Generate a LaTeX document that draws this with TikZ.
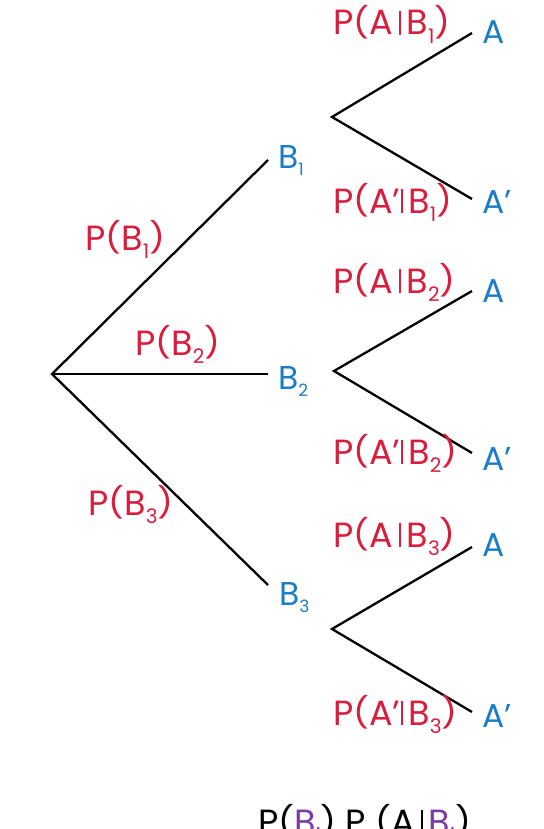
\documentclass[tikz,border=0pt]{standalone}
\usepackage{fontspec}
\setmainfont{Poppins}
\definecolor{probred}{HTML}{D81E3C}
\definecolor{eventblue}{HTML}{1B7DC6}
\definecolor{idxpurple}{HTML}{7A3DA8}
% lowered index digit: #1 size, #2 drop, #3 text
\newcommand{\lowidx}[3][24]{\raisebox{-#2}{\fontsize{#1}{#1}\selectfont #3}}
\newcommand{\ridx}[1]{\lowidx[20]{8.5pt}{#1}}
\newcommand{\bidx}[1]{\lowidx[17]{7.5pt}{#1}}
\newcommand{\givenbar}{\rule[0pt]{2pt}{0.69em}}
% flatter brackets
\newcommand{\lpar}{\raisebox{0.04em}{\scalebox{1}[0.86]{(}}}
\newcommand{\rpar}{\raisebox{0.04em}{\scalebox{1}[0.86]{)}}}
\begin{document}
\begin{tikzpicture}[x=1pt,y=-1pt,
  branch/.style={line width=2.3pt,black},
  prob/.style={anchor=base west,inner sep=0pt,text=probred,font=\fontsize{35}{35}\selectfont},
  event/.style={anchor=base west,inner sep=0pt,text=eventblue,font=\fontsize{33}{33}\selectfont},
  formula/.style={anchor=base west,inner sep=0pt,text=black,font=\fontsize{35}{35}\selectfont}]
\useasboundingbox (0,0) rectangle (543,829);

% branch points
\coordinate (root) at (52,374);
\coordinate (b1) at (268,160);
\coordinate (b2) at (268,374);
\coordinate (b3) at (268,585);
\coordinate (f1) at (332,117);
\coordinate (f2) at (334,371);
\coordinate (f3) at (332,629);
\coordinate (a1) at (472,33);
\coordinate (c1) at (472,199);
\coordinate (a2) at (472,291);
\coordinate (c2) at (472,453);
\coordinate (a3) at (472,547);
\coordinate (c3) at (472,712);

% first stage
\draw[branch] (b1) -- (root) -- (b3);
\draw[branch] (root) -- (b2);
% second stage
\draw[branch] (a1) -- (f1) -- (c1);
\draw[branch] (a2) -- (f2) -- (c2);
\draw[branch] (a3) -- (f3) -- (c3);

% events
\node[event] (B1) at (278,168) {B\bidx{1}};
\node[event] (B2) at (278,389) {B\bidx{2}};
\node[event] (B3) at (279,605) {B\bidx{3}};
\node[event] (A1) at (482,44) {A};
\node[event] (N1) at (482,213) {A’};
\node[event] (A2) at (482,302) {A};
\node[event] (N2) at (482,470) {A’};
\node[event] (A3) at (482,556) {A};
\node[event] (N3) at (482,727) {A’};

% probabilities
\node[prob] (pB1) at (85,250) {P\lpar B\ridx{1}\rpar};
\node[prob] (pB2) at (135,355) {P\lpar B\ridx{2}\rpar};
\node[prob] (pB3) at (88,515) {P\lpar B\ridx{3}\rpar};
\node[prob] (pA1) at (333,35) {P\lpar A\,\givenbar\,B\ridx{1}\rpar};
\node[prob] (pN1) at (333,213) {P\lpar A’\givenbar\,B\ridx{1}\rpar};
\node[prob] (pA2) at (333,293) {P\lpar A\,\givenbar\,B\ridx{2}\rpar};
\node[prob] (pN2) at (333,464) {P\lpar A’\givenbar\,B\ridx{2}\rpar};
\node[prob] (pA3) at (333,547) {P\lpar A\,\givenbar\,B\ridx{3}\rpar};
\node[prob] (pN3) at (333,725) {P\lpar A’\givenbar\,B\ridx{3}\rpar};

% product of the branch probabilities
\node[formula] (prod) at (258,834) {P\lpar\textcolor{idxpurple}{B\ridx{i}}\rpar\ P \lpar A\,\givenbar\,\textcolor{idxpurple}{B\ridx{i}}\rpar};
\end{tikzpicture}
\end{document}
